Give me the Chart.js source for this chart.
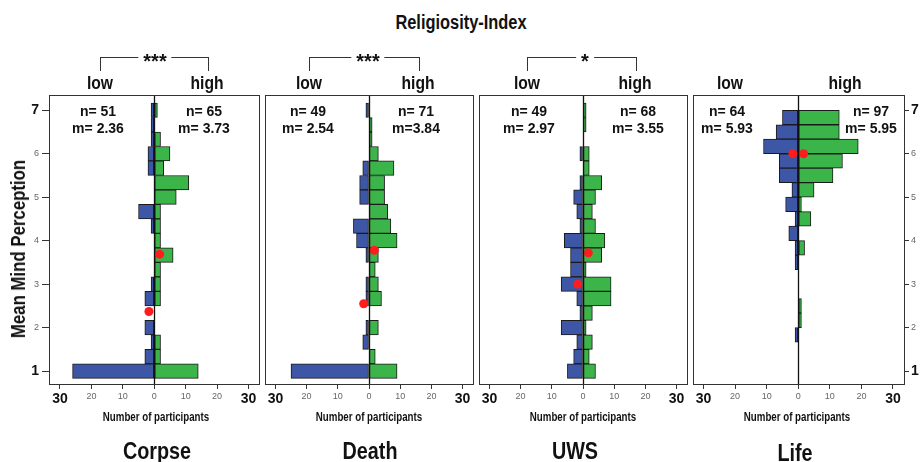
<!DOCTYPE html>
<html>
<head>
<meta charset="utf-8">
<script src="https://cdn.jsdelivr.net/npm/chart.js@4.4.1/dist/chart.umd.min.js"></script>
<style>
  body { margin:0; width:921px; height:462px; overflow:hidden; background:#fff; position:relative;
         font-family:'Liberation Sans',Arial,sans-serif; color:#111; }
  .t { position:absolute; white-space:nowrap; line-height:1; font-weight:bold;
       transform:translate(-50%,-50%) scaleX(var(--sx,1)); }
  .title { font-size:20px; --sx:0.82; }
  .grp { font-size:18px; --sx:0.87; }
  .name { font-size:23px; --sx:0.86; }
  .xt { font-size:12px; --sx:0.81; }
  .yt { font-size:20px; transform:translate(-50%,-50%) rotate(-90deg) scaleX(0.84); }
  .nm { font-size:14px; }
  .stars { font-size:20px; background:#fff; padding:0 5px; }
  .brk { position:absolute; border:1px solid #333; border-bottom:none; height:13px; }
  canvas { position:absolute; }
</style>
</head>
<body>
<script>
// bins (mean mind perception), top to bottom
const BINS = [7, 6.667, 6.333, 6, 5.667, 5.333, 5, 4.667, 4.333, 4, 3.667, 3.333, 3, 2.667, 2.333, 2, 1.667, 1.333, 1];
const LIFE_BINS = [6.833, 6.5, 6.167, 5.833, 5.5, 5.167, 4.833, 4.5, 4.167, 3.833, 3.5, 3.167, 2.833, 2.5, 2.167, 1.833, 1.5, 1.167];

// counts, low / high religiosity
const CORPSE_LOW  = [1,1,1,2,2,0,0,5,1,0,0,0,1,3,0,3,1,3,26];
const CORPSE_HIGH = [1,0,2,5,3,11,7,2,2,2,6,2,2,2,0,0,2,2,14];
const DEATH_LOW   = [1,0,0,0,2,3,3,0,5,4,1,0,1,1,0,1,2,0,25];
const DEATH_HIGH  = [0,1,1,3,8,5,5,6,7,9,3,2,3,4,0,3,0,2,9];
const UWS_LOW     = [0,0,0,1,0,1,3,2,1,6,4,4,7,2,1,7,2,3,5];
const UWS_HIGH    = [1,1,0,2,2,6,4,3,4,7,6,1,9,9,3,1,3,2,4];
const LIFE_LOW    = [5,7,11,6,6,2,4,1,3,1,1,0,0,0,0,1,0,0];
const LIFE_HIGH   = [13,13,19,14,11,5,1,4,0,2,0,0,0,1,1,0,0,0];

// red mean markers (y position), [low, high]
const CORPSE_DOT = [2.37, 3.69];
const DEATH_DOT  = [2.55, 3.78];
const UWS_DOT    = [3.0, 3.72];
const LIFE_DOT   = [6.0, 6.0];

const PANEL_NAMES = ['Corpse', 'Death', 'UWS', 'Life'];
const N_LOW  = ['n= 51', 'n= 49', 'n= 49', 'n= 64'];
const N_HIGH = ['n= 65', 'n= 71', 'n= 68', 'n= 97'];
const M_LOW  = ['m= 2.36', 'm= 2.54', 'm= 2.97', 'm= 5.93'];
const M_HIGH = ['m= 3.73', 'm=3.84', 'm= 3.55', 'm= 5.95'];
const SIG = ['***', '***', '*', ''];

const X_TICKS = [-30, -20, -10, 0, 10, 20, 30];
const Y_TICKS = [1, 2, 3, 4, 5, 6, 7];

const BLUE = '#3d56a6', GREEN = '#3bb44a', RED = '#ff1c1c', EDGE = '#1a1a1a';
const SANS = "'Liberation Sans',Arial,sans-serif";
const DOT_DX = 1.7;

Chart.defaults.font.family = SANS;

function addText(cls, txt, x, y) {
  const d = document.createElement('div');
  d.className = 't ' + cls;
  d.textContent = txt;
  d.style.left = x + 'px';
  d.style.top = y + 'px';
  document.body.appendChild(d);
  return d;
}

// frame round the plot + zero line, drawn over the bars
const framePlugin = {
  id: 'frame',
  afterDatasetsDraw(chart) {
    const { ctx, chartArea: a, scales: { x } } = chart;
    const x0 = Math.round(x.getPixelForValue(0)) + 0.5;
    ctx.save();
    ctx.strokeStyle = '#111';
    ctx.lineWidth = 1.3;
    ctx.beginPath(); ctx.moveTo(x0, a.top); ctx.lineTo(x0, a.bottom); ctx.stroke();
    ctx.strokeStyle = '#333';
    ctx.lineWidth = 1;
    ctx.strokeRect(Math.round(a.left) + 0.5, Math.round(a.top) + 0.5, Math.round(a.width) - 1, Math.round(a.height) - 1);
    ctx.restore();
  }
};

const isBig = v => Math.abs(v) === 30 || v === 1 || v === 7;
const tickFont = c => (c.tick && isBig(c.tick.value))
  ? { family: SANS, size: 14, weight: 'bold' }
  : { family: SANS, size: 9 };
const tickColor = c => (c.tick && isBig(c.tick.value)) ? '#111' : '#666';

const PANELS = [
  { bins: BINS, low: CORPSE_LOW, high: CORPSE_HIGH, dot: CORPSE_DOT, left: 49,  right: 262, axis: 'left' },
  { bins: BINS, low: DEATH_LOW,  high: DEATH_HIGH,  dot: DEATH_DOT,  left: 262, right: 476 },
  { bins: BINS, low: UWS_LOW,    high: UWS_HIGH,    dot: UWS_DOT,    left: 476, right: 690 },
  { bins: LIFE_BINS, low: LIFE_LOW, high: LIFE_HIGH, dot: LIFE_DOT,  left: 690, right: 904, axis: 'right' }
];

PANELS.forEach((p, i) => {
  const axL = p.axis === 'left' ? 49 : 0;
  const axR = p.axis === 'right' ? 17 : 0;
  const cv = document.createElement('canvas');
  cv.width = (p.right - p.left) + axL + axR + 4;
  cv.height = 5 + 290 + 40;
  cv.style.left = (p.left - axL - 2) + 'px';
  cv.style.top = '90px';
  document.body.appendChild(cv);

  const barStyle = { grouped: false, barPercentage: 1, categoryPercentage: 1,
                     borderColor: EDGE, borderWidth: 1, borderSkipped: false };
  new Chart(cv, {
    type: 'bar',
    data: {
      datasets: [
        { type: 'scatter', data: [{ x: -DOT_DX, y: p.dot[0] }, { x: DOT_DX, y: p.dot[1] }],
          pointRadius: 4.5, backgroundColor: RED, borderWidth: 0, order: 0 },
        Object.assign({ label: 'low', data: p.bins.map((b, k) => ({ x: -p.low[k], y: b })),
          backgroundColor: BLUE, order: 1 }, barStyle),
        Object.assign({ label: 'high', data: p.bins.map((b, k) => ({ x: p.high[k], y: b })),
          backgroundColor: GREEN, order: 2 }, barStyle)
      ]
    },
    options: {
      indexAxis: 'y',
      responsive: false,
      animation: false,
      layout: { padding: { left: 2, right: 2, top: 5, bottom: 0 } },
      plugins: { legend: { display: false }, tooltip: { enabled: false } },
      scales: {
        x: {
          type: 'linear', min: -33.5, max: 33.5,
          afterBuildTicks: s => { s.ticks = X_TICKS.map(v => ({ value: v })); },
          afterFit: s => { s.height = 40; s.paddingLeft = 0; s.paddingRight = 0; },
          border: { display: false },
          grid: { drawOnChartArea: false, drawTicks: true, tickLength: 4, tickColor: '#333' },
          ticks: { autoSkip: false, maxRotation: 0, padding: 2,
                   callback: v => Math.abs(v), font: tickFont, color: tickColor }
        },
        y: {
          type: 'linear', min: 0.68, max: 7.35, offset: false,
          display: !!p.axis, position: p.axis === 'right' ? 'right' : 'left',
          afterBuildTicks: s => { s.ticks = Y_TICKS.map(v => ({ value: v })); },
          afterFit: s => { if (p.axis) s.width = p.axis === 'left' ? 49 : 17; s.paddingTop = 0; s.paddingBottom = 0; },
          border: { display: false },
          grid: { offset: false, drawOnChartArea: false, drawTicks: true,
                  tickLength: p.axis === 'left' ? 7 : 5, tickColor: '#333' },
          ticks: { autoSkip: false, padding: p.axis === 'left' ? 3 : 2, font: tickFont, color: tickColor }
        }
      }
    },
    plugins: [framePlugin]
  });
});

// texts round the panels
addText('title', 'Religiosity-Index', 461, 22);
addText('yt', 'Mean Mind Perception', 18, 249);
const GRP_X = [[100, 207], [309, 418], [527, 635], [730, 845]];
const NM_X  = [[98, 204], [308, 416], [529, 638], [727, 871]];
const NAME_X = [157, 370, 575, 795];
const XT_X = [156, 369, 583, 797];
const STAR_X = [155, 368, 585];
PANEL_NAMES.forEach((nm, i) => {
  addText('grp', 'low', GRP_X[i][0], 83);
  addText('grp', 'high', GRP_X[i][1], 83);
  addText('nm', N_LOW[i], NM_X[i][0], 111);
  addText('nm', M_LOW[i], NM_X[i][0], 128);
  addText('nm', N_HIGH[i], NM_X[i][1], 111);
  addText('nm', M_HIGH[i], NM_X[i][1], 128);
  addText('xt', 'Number of participants', XT_X[i], 417);
  addText('name', nm, NAME_X[i], i === 3 ? 453 : 451);
  if (SIG[i]) {
    const b = document.createElement('div');
    b.className = 'brk';
    b.style.left = GRP_X[i][0] + 'px';
    b.style.top = '57px';
    b.style.width = (GRP_X[i][1] - GRP_X[i][0]) + 'px';
    document.body.appendChild(b);
    addText('stars', SIG[i], STAR_X[i], 61);
  }
});
</script>
</body>
</html>
